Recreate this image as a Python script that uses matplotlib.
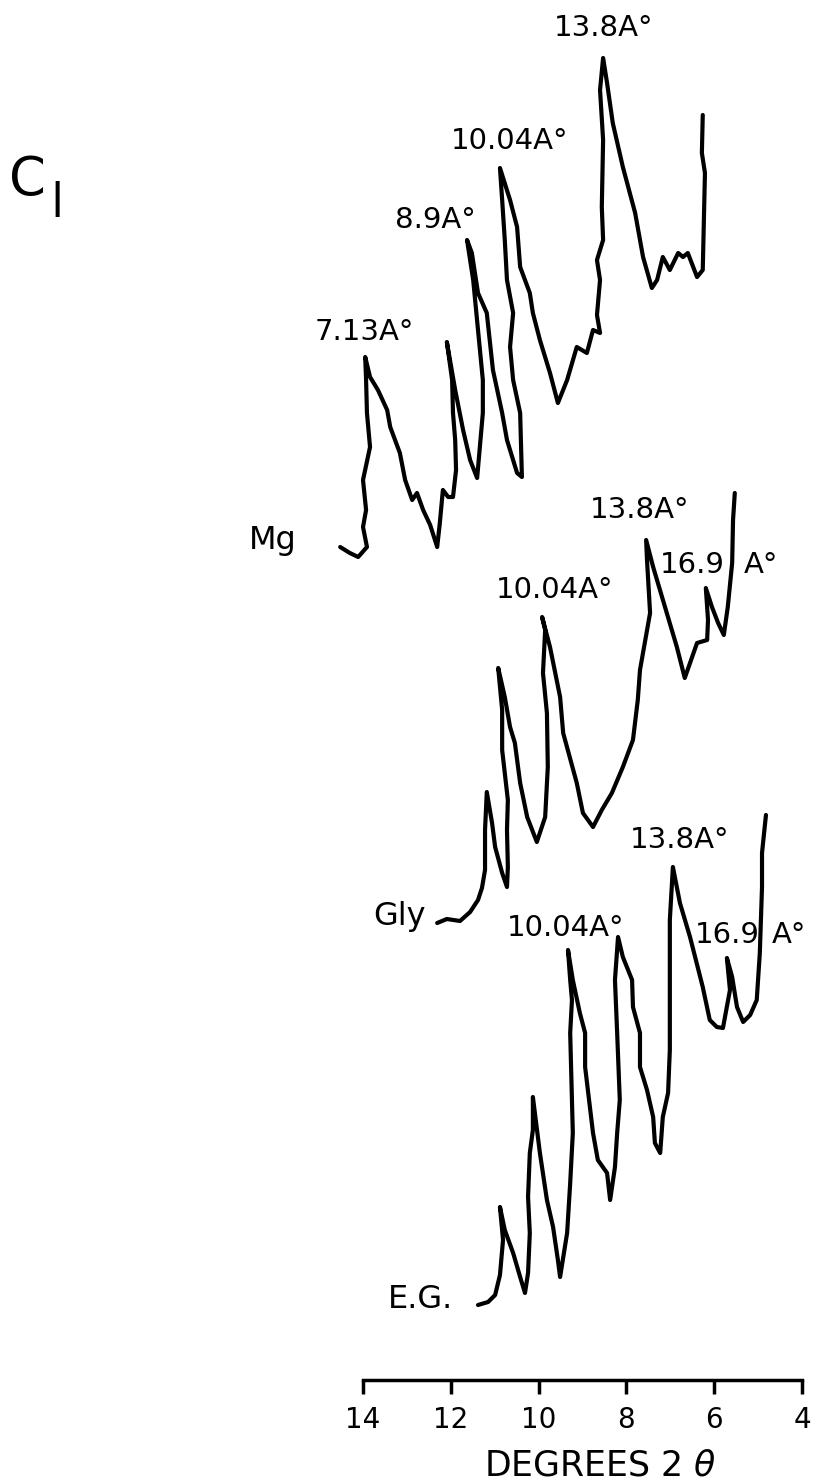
import matplotlib
matplotlib.use("Agg")
import matplotlib.pyplot as plt

# X-ray diffraction traces, sample C1 (degrees 2 theta vs. pen height, arbitrary units)
mg_2theta = [14.52, 14.30, 14.11, 13.91, 14.00, 13.93, 14.00, 13.84, 13.91, 13.93, 13.95,
             13.84, 13.66, 13.45, 13.38, 13.16, 13.04, 12.88, 12.77, 12.63, 12.47, 12.31,
             12.25, 12.18, 12.06, 11.95, 11.88, 11.90, 11.95, 11.97, 12.09,
             11.90, 11.72, 11.56, 11.40, 11.27, 11.27, 11.38, 11.49, 11.63,
             11.52, 11.38, 11.18, 11.04, 10.83, 10.72, 10.49, 10.38,
             10.42, 10.58, 10.65, 10.58, 10.72, 10.77, 10.83, 10.88,
             10.65, 10.49, 10.42, 10.20, 10.13, 9.97, 9.74, 9.56,
             9.35, 9.13, 8.90, 8.76, 8.60, 8.67, 8.60, 8.67, 8.53, 8.56, 8.53, 8.60, 8.53,
             8.44, 8.31, 8.08, 7.80, 7.62, 7.42, 7.30, 7.17, 7.01, 6.82, 6.71, 6.60,
             6.39, 6.26, 6.21, 6.28, 6.26]
mg_height = [937, 931, 927, 937, 957, 974, 1004, 1037, 1071, 1104, 1127,
             1107, 1094, 1074, 1057, 1031, 1004, 984, 991, 974, 959, 937,
             961, 994, 987, 987, 1014, 1044, 1071, 1104, 1142,
             1094, 1054, 1024, 1006, 1071, 1104, 1154, 1204, 1244,
             1231, 1191, 1171, 1114, 1071, 1044, 1011, 1007,
             1071, 1104, 1137, 1171, 1204, 1244, 1284, 1316,
             1284, 1257, 1217, 1191, 1171, 1144, 1111, 1081,
             1104, 1137, 1131, 1154, 1151, 1169, 1204, 1224, 1244, 1277, 1344, 1394, 1426,
             1401, 1361, 1317, 1271, 1227, 1196, 1204, 1227, 1214, 1231, 1227, 1231,
             1207, 1214, 1311, 1331, 1369]

gly_2theta = [12.31, 12.09, 11.79, 11.56, 11.38, 11.29, 11.22, 11.22, 11.18,
              11.06, 10.99, 10.83, 10.72, 10.70, 10.72, 10.70, 10.83, 10.83, 10.92,
              10.77, 10.65, 10.54, 10.42, 10.26, 10.04,
              9.85, 9.79, 9.81, 9.90, 9.85, 9.92,
              9.74, 9.51, 9.44, 9.13, 8.99, 8.76, 8.56, 8.33, 8.08, 7.85, 7.74, 7.69, 7.46,
              7.53, 7.55, 7.39, 7.12, 6.85, 6.67, 6.39, 6.16, 6.14, 6.19,
              6.05, 5.91, 5.78, 5.69, 5.59, 5.57, 5.53]
gly_height = [561, 565, 563, 572, 584, 596, 614, 654, 692,
              661, 637, 611, 597, 617, 654, 684, 734, 774, 816,
              787, 757, 741, 701, 667, 642,
              667, 717, 771, 811, 854, 867,
              837, 787, 751, 701, 671, 657, 674, 691, 717, 744, 784, 814, 871,
              924, 944, 917, 877, 837, 806, 841, 844, 864, 896,
              877, 861, 849, 877, 921, 964, 991]

eg_2theta = [11.38, 11.15, 10.99, 10.88, 10.81, 10.88,
             10.77, 10.58, 10.42, 10.31, 10.24, 10.20, 10.24, 10.20, 10.13, 10.13,
             9.97, 9.81, 9.67, 9.56, 9.51, 9.35, 9.28, 9.22, 9.24, 9.28, 9.24, 9.28, 9.33,
             9.22, 9.06, 8.94, 8.94, 8.76, 8.65, 8.44, 8.37,
             8.26, 8.21, 8.15, 8.21, 8.26, 8.19,
             8.08, 7.87, 7.85, 7.69, 7.69, 7.53, 7.39, 7.35, 7.23,
             7.17, 7.05, 7.01, 7.01, 7.01, 6.94,
             6.78, 6.55, 6.26, 6.10, 5.94, 5.80, 5.64, 5.71,
             5.59, 5.48, 5.34, 5.18, 5.03, 4.96, 4.91, 4.91, 4.82]
eg_height = [179, 182, 189, 209, 244, 277,
             254, 231, 207, 191, 211, 251, 287, 331, 354, 387,
             331, 284, 257, 224, 207, 251, 301, 351, 384, 451, 484, 504, 534,
             504, 471, 451, 417, 351, 324, 311, 284,
             317, 351, 384, 451, 504, 547,
             527, 504, 477, 451, 417, 394, 367, 341, 331,
             367, 391, 434, 514, 564, 617,
             581, 547, 497, 464, 457, 456, 494, 526,
             507, 477, 462, 469, 484, 531, 597, 631, 669]

# peak annotations: (text, 2theta, height)
peak_labels = [("13.8A°", 8.53, 1456), ("10.04A°", 10.65, 1343), ("8.9A°", 12.34, 1264),
               ("7.13A°", 13.98, 1152),
               ("13.8A°", 7.69, 974), ("10.04A°", 9.63, 894), ("16.9", 6.51, 919), ("A°", 4.93, 919),
               ("13.8A°", 6.78, 644), ("10.04A°", 9.38, 556), ("16.9", 5.71, 549), ("A°", 4.30, 549)]
sample_labels = [("Mg", 16.06, 944), ("Gly", 13.16, 567), ("E.G.", 12.70, 184)]
ticks = [14, 12, 10, 8, 6, 4]

fig = plt.figure(figsize=(8.16, 14.84), dpi=100)
ax = fig.add_axes([0, 0, 1, 1])
ax.set_xlim(22.27, 3.68)
ax.set_ylim(0, 1484)

for xs, ys in [(mg_2theta, mg_height), (gly_2theta, gly_height), (eg_2theta, eg_height)]:
    ax.plot(xs, ys, color="black", lw=3.0, solid_joinstyle="round", solid_capstyle="round")

for txt, x, y in peak_labels:
    ax.text(x, y, txt, fontsize=21, ha="center", va="center", family="DejaVu Sans")
for txt, x, y in sample_labels:
    ax.text(x, y, txt, fontsize=23, ha="center", va="center", family="DejaVu Sans")

fig.text(27 / 816, 1 - 180 / 1484, "C", fontsize=38, ha="center", va="center")
fig.text(57 / 816, 1 - 199 / 1484, "|", fontsize=26, ha="center", va="center",
         fontweight="bold")

# scale bar as the x axis
for s in ["top", "left", "right"]:
    ax.spines[s].set_visible(False)
ax.spines["bottom"].set_position(("data", 104))
ax.spines["bottom"].set_bounds(4, 14)
ax.spines["bottom"].set_linewidth(2.5)
ax.set_xticks(ticks)
ax.set_xticklabels([str(t) for t in ticks])
ax.tick_params(axis="x", direction="out", length=10, width=2.5, pad=9, labelsize=20)
ax.set_yticks([])
ax.set_xlabel("DEGREES 2 $\\theta$", fontsize=25, va="center")
ax.xaxis.set_label_coords(600 / 816, 19 / 1484)

fig.savefig("out.png", dpi=100, facecolor="white")
